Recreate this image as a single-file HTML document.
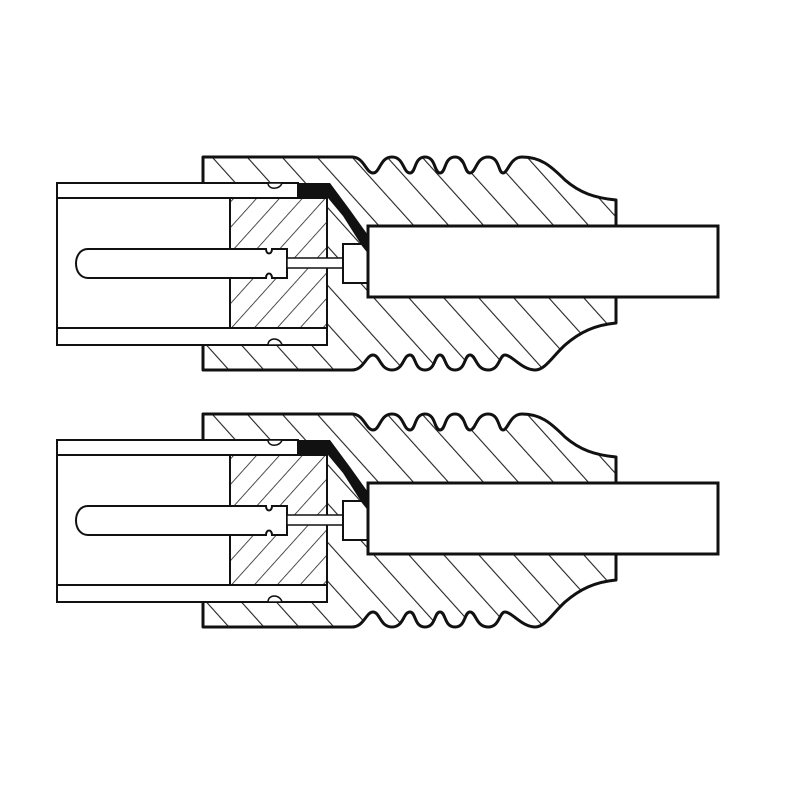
<!DOCTYPE html>
<html><head><meta charset="utf-8"><style>html,body{margin:0;padding:0;background:#fff}svg{display:block}</style></head>
<body>
<svg width="800" height="800" viewBox="0 0 800 800" xmlns="http://www.w3.org/2000/svg">
<defs>
<pattern id="hb" patternUnits="userSpaceOnUse" width="26" height="26" patternTransform="rotate(-42)">
<rect width="26" height="26" fill="#fff"/><line x1="0" y1="0" x2="0" y2="26" stroke="#222" stroke-width="2.2"/></pattern>
<pattern id="hi" patternUnits="userSpaceOnUse" width="17" height="17" patternTransform="rotate(42)">
<rect width="17" height="17" fill="#fff"/><line x1="0" y1="0" x2="0" y2="17" stroke="#222" stroke-width="1.6"/></pattern>
<g id="c">
<path d="M203,157 H352 C364,157 366,173 373,173 C380,173 380,157 392,157 C404,157 403,173 410,173 C416,173 414,157 425,157 C436,157 434,173 440,173 C446,173 444,157 455,157 C466,157 464,173 470,173 C476,173 476,157 488,157 C500,157 498,173 503,173 C508,173 510,157 522,157 C540,157 550,165 565,180 C580,193 595,198 616,200 V323 C595,325 580,332 565,345 C552,357 545,370 535,370 C522,370 512,355 505,355 C499,355 500,370 488,370 C476,370 476,355 470,355 C464,355 466,370 455,370 C444,370 446,355 440,355 C434,355 436,370 425,370 C414,370 416,355 410,355 C403,355 404,370 392,370 C380,370 380,355 373,355 C366,355 364,370 352,370 H203 Z" fill="url(#hb)" stroke="#111" stroke-width="3" stroke-linejoin="round"/>
<rect x="57" y="183" width="241" height="15" fill="#fff" stroke="#111" stroke-width="2"/>
<rect x="57" y="328" width="270" height="17" fill="#fff" stroke="#111" stroke-width="2"/>
<rect x="57" y="198" width="173" height="130" fill="#fff" stroke="#111" stroke-width="2"/>
<rect x="230" y="198" width="97" height="130" fill="url(#hi)" stroke="#111" stroke-width="2"/>
<path d="M268,183 C268,190 280,190 282,183 Z M268,345 C268,337 280,337 282,345 Z" fill="#fff" stroke="#111" stroke-width="1.5"/>
<path d="M88,249 H266 C266,255 272,255 272,249 H287 V278 H272 C272,272 266,272 266,278 H88 C72,278 72,249 88,249 Z" fill="#fff" stroke="#111" stroke-width="2"/>
<rect x="287" y="258" width="57" height="10" fill="#fff" stroke="#111" stroke-width="1.5"/>
<rect x="343" y="244" width="25" height="39" fill="#fff" stroke="#111" stroke-width="2"/>
<path d="M298,183 H330 L350,210 L370,238 V256 L362,246 L343,216 L328,198 H298 Z" fill="#111"/>
<rect x="368" y="226" width="350" height="71" fill="#fff" stroke="#111" stroke-width="3"/>
</g>
</defs>
<use href="#c"/>
<use href="#c" transform="translate(0,257)"/>
</svg>
</body></html>
